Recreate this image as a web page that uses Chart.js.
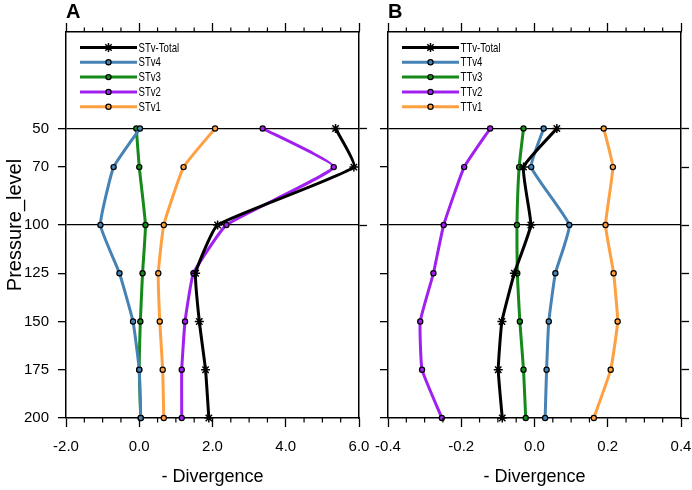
<!DOCTYPE html>
<html>
<head>
<meta charset="utf-8">
<script src="https://cdn.jsdelivr.net/npm/chart.js@4/dist/chart.umd.min.js"></script>
<style>
  body { margin: 0; background: #fff; width: 692px; height: 490px; overflow: hidden; position: relative; }
  .panel { position: absolute; top: 0; height: 490px; }
</style>
</head>
<body>
<div class="panel" style="left:0;width:372px"><canvas id="chart-a"></canvas></div>
<div class="panel" style="left:372px;width:320px"><canvas id="chart-b"></canvas></div>
<script>
// ---- Data -------------------------------------------------------------
const levels    = [50, 70, 100, 125, 150, 175, 200];
const refLevels = [50, 100];

// Panel A: STv terms
const stvTotal = [5.36, 5.86, 2.14, 1.54, 1.64, 1.81, 1.90];
const stv4     = [0.02, -0.70, -1.06, -0.54, -0.17, 0.00, 0.04];
const stv3     = [-0.08, 0.00, 0.17, 0.09, 0.03, 0.00, 0.04];
const stv2     = [3.37, 5.31, 2.38, 1.48, 1.25, 1.16, 1.16];
const stv1     = [2.07, 1.21, 0.67, 0.52, 0.56, 0.64, 0.67];

// Panel B: TTv terms
const ttvTotal = [0.061, -0.030, -0.010, -0.055, -0.089, -0.099, -0.088];
const ttv4     = [0.025, -0.009, 0.095, 0.057, 0.039, 0.033, 0.029];
const ttv3     = [-0.030, -0.042, -0.048, -0.047, -0.040, -0.030, -0.024];
const ttv2     = [-0.121, -0.192, -0.248, -0.276, -0.312, -0.307, -0.253];
const ttv1     = [0.189, 0.214, 0.194, 0.216, 0.227, 0.208, 0.162];

const xTicksA  = [-2, 0, 2, 4, 6];
const xLabelsA = ["-2.0", "0.0", "2.0", "4.0", "6.0"];
const xTicksB  = [-0.4, -0.2, 0, 0.2, 0.4];
const xLabelsB = ["-0.4", "-0.2", "0.0", "0.2", "0.4"];

const COLORS = { total: "#000000", v4: "#4682b4", v3: "#15891a", v2: "#a020f0", v1: "#ffa040" };

Chart.defaults.font.family = '"Liberation Sans", Arial, Helvetica, sans-serif';
Chart.defaults.color = "#000";

function series(label, vals, color, isTotal) {
    return {
        label,
        data: levels.map((p, i) => ({ x: vals[i], y: p })),
        showLine: true,
        borderColor: color,
        backgroundColor: color,
        borderWidth: 3,
        tension: 0.12,
        pointStyle: isTotal ? "star" : "circle",
        pointRadius: isTotal ? 4.5 : 2.6,
        pointBorderColor: "#000",
        pointBackgroundColor: isTotal ? "#000" : color,
        pointBorderWidth: isTotal ? 1.5 : 1.2,
        clip: false,
    };
}

// ---- Decorations: minor x ticks, panel letter, in-plot legend ---------
const decor = {
    id: "decor",
    afterDraw(chart, args, o) {
        const { ctx, chartArea: ca, scales } = chart;
        const x = scales.x;
        ctx.save();
        ctx.strokeStyle = "#000";
        ctx.lineWidth = 1.2;
        const n = Math.round((x.max - x.min) / o.minor);
        for (let k = 1; k < n; k++) {
            const v = x.min + k * o.minor;
            if (o.major.some((m) => Math.abs(m - v) < 1e-9)) continue;
            const px = x.getPixelForValue(v);
            ctx.beginPath();
            ctx.moveTo(px, ca.bottom); ctx.lineTo(px, ca.bottom + 4.5);
            ctx.moveTo(px, ca.top);    ctx.lineTo(px, ca.top - 4.5);
            ctx.stroke();
        }

        // panel letter
        ctx.fillStyle = "#000";
        ctx.font = 'bold 20px "Liberation Sans", Arial, sans-serif';
        ctx.textBaseline = "alphabetic";
        ctx.textAlign = "left";
        ctx.fillText(o.letter, ca.left, 18);

        // legend
        chart.data.datasets.forEach((ds, i) => {
            const y = ca.top + 15.5 + i * 14.8;
            const x0 = ca.left + 14, x1 = ca.left + 71;
            ctx.strokeStyle = ds.borderColor;
            ctx.lineWidth = 3;
            ctx.beginPath(); ctx.moveTo(x0, y); ctx.lineTo(x1, y); ctx.stroke();
            ctx.fillStyle = ds.pointBackgroundColor;
            ctx.strokeStyle = ds.pointBorderColor;
            ctx.lineWidth = ds.pointBorderWidth;
            Chart.helpers.drawPoint(ctx, {
                pointStyle: ds.pointStyle, radius: ds.pointRadius,
                borderWidth: ds.pointBorderWidth, rotation: 0,
            }, (x0 + x1) / 2, y);
            ctx.save();
            ctx.translate(x1 + 1.5, y);
            ctx.scale(0.74, 1);
            ctx.fillStyle = "#000";
            ctx.font = '13px "Liberation Sans", Arial, sans-serif';
            ctx.textBaseline = "middle";
            ctx.fillText(ds.label, 0, 0.5);
            ctx.restore();
        });
        ctx.restore();
    },
};

function makeChart(id, o) {
    const tickFont = { size: 15 };
    const scaleRange = { min: o.xMin, max: o.xMax };
    const yRange = { min: 0, max: 200, reverse: true };
    const setLevels = (s) => { s.ticks = levels.map((v) => ({ value: v })); };
    const setX = (s) => { s.ticks = o.xTicks.map((v) => ({ value: v })); };
    const border = { color: "#000", width: 1.5 };
    // fixed box sizes, and no label overhang padding so plot edges land exactly
    const fitH = (h) => (s) => { s.height = h; s.paddingLeft = 0; s.paddingRight = 0; };
    const fitW = (w) => (s) => { s.width = w; s.paddingTop = 0; s.paddingBottom = 0; };

    return new Chart(document.getElementById(id), {
        type: "scatter",
        data: { datasets: o.datasets },
        plugins: [decor],
        options: {
            responsive: true,
            maintainAspectRatio: false,
            animation: false,
            layout: { padding: 0, autoPadding: false },
            plugins: {
                legend: { display: false },
                tooltip: { enabled: false },
                decor: { letter: o.letter, minor: o.minor, major: o.xTicks },
            },
            scales: {
                x: {
                    type: "linear", position: "bottom", ...scaleRange,
                    afterBuildTicks: setX,
                    afterFit: fitH(72),
                    ticks: { font: tickFont, padding: 11, maxRotation: 0, autoSkip: false,
                             callback: (v, i) => o.xLabels[i] },
                    grid: { drawOnChartArea: false, tickLength: 9, tickColor: "#000", tickWidth: 1.3 },
                    border,
                    title: { display: true, text: "- Divergence", font: { size: 18 },
                             padding: { top: 0, bottom: 2 } },
                },
                x2: {
                    type: "linear", position: "top", ...scaleRange,
                    afterBuildTicks: setX,
                    afterFit: fitH(32),
                    ticks: { display: false },
                    grid: { drawOnChartArea: false, tickLength: 9, tickColor: "#000", tickWidth: 1.3 },
                    border,
                },
                y: {
                    type: "linear", position: "left", ...yRange,
                    afterBuildTicks: setLevels,
                    afterFit: fitW(o.leftW),
                    ticks: { display: o.yLabels, font: tickFont, padding: 9, autoSkip: false,
                             callback: (v) => String(v) },
                    grid: {
                        drawOnChartArea: true,
                        color: (c) => (c.tick && refLevels.includes(c.tick.value)) ? "#000" : "rgba(0,0,0,0)",
                        lineWidth: 1.3,
                        tickLength: 8, tickColor: "#000", tickWidth: 1.3,
                    },
                    border,
                    title: { display: o.yLabels, text: "Pressure_level", font: { size: 20 },
                             padding: { top: 3, bottom: 0 } },
                },
                y2: {
                    type: "linear", position: "right", ...yRange,
                    afterBuildTicks: setLevels,
                    afterFit: fitW(o.rightW),
                    ticks: { display: false },
                    grid: {
                        drawOnChartArea: false,
                        tickLength: 8, tickWidth: 1.3,
                        tickColor: (c) => (o.rightAll || (c.tick && refLevels.includes(c.tick.value))) ? "#000" : "rgba(0,0,0,0)",
                    },
                    border,
                },
            },
        },
    });
}

makeChart("chart-a", {
    letter: "A", xMin: -2, xMax: 6, minor: 0.5,
    xTicks: xTicksA, xLabels: xLabelsA,
    leftW: 66, rightW: 13, yLabels: true, rightAll: false,
    datasets: [
        series("STv-Total", stvTotal, COLORS.total, true),
        series("STv4", stv4, COLORS.v4),
        series("STv3", stv3, COLORS.v3),
        series("STv2", stv2, COLORS.v2),
        series("STv1", stv1, COLORS.v1),
    ],
});

makeChart("chart-b", {
    letter: "B", xMin: -0.4, xMax: 0.4, minor: 0.05,
    xTicks: xTicksB, xLabels: xLabelsB,
    leftW: 16, rightW: 11, yLabels: false, rightAll: true,
    datasets: [
        series("TTv-Total", ttvTotal, COLORS.total, true),
        series("TTv4", ttv4, COLORS.v4),
        series("TTv3", ttv3, COLORS.v3),
        series("TTv2", ttv2, COLORS.v2),
        series("TTv1", ttv1, COLORS.v1),
    ],
});
</script>
</body>
</html>
